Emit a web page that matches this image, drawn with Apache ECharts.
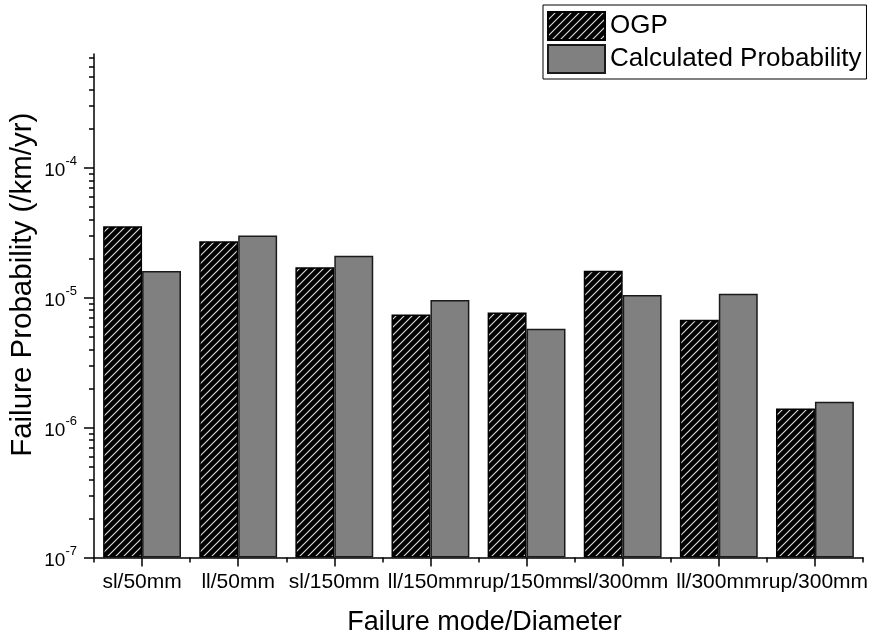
<!DOCTYPE html>
<html>
<head>
<meta charset="utf-8">
<script src="https://cdn.jsdelivr.net/npm/echarts@6/dist/echarts.min.js"></script>
<style>
html,body{margin:0;padding:0;background:#fff;}
#chart{width:872px;height:641px;}
</style>
</head>
<body>
<div id="chart"></div>
<script>
// ---- data ----
var categories = ['sl/50mm', 'll/50mm', 'sl/150mm', 'll/150mm', 'rup/150mm', 'sl/300mm', 'll/300mm', 'rup/300mm'];
var ogpValues = [3.55e-5, 2.72e-5, 1.71e-5, 7.43e-6, 7.69e-6, 1.61e-5, 6.75e-6, 1.405e-6];
var calcValues = [1.60e-5, 3.01e-5, 2.10e-5, 9.57e-6, 5.75e-6, 1.05e-5, 1.07e-5, 1.58e-6];
var seriesNames = ['OGP', 'Calculated Probability'];
var majorTickValues = [1e-7, 1e-6, 1e-5, 1e-4];
var yMin = 1e-7;
var yMax = 7.5e-4;

// minor tick values 2..9 per decade
var minorTickValues = [];
for (var e = -7; e <= -4; e++) {
  for (var k = 2; k <= 9; k++) {
    var v = k * Math.pow(10, e);
    if (v <= yMax) minorTickValues.push(v);
  }
}

// hatch pattern
function makeHatch() {
  var s = 8;
  var c = document.createElement('canvas');
  c.width = s; c.height = s;
  var ctx = c.getContext('2d');
  ctx.fillStyle = '#000';
  ctx.fillRect(0, 0, s, s);
  ctx.strokeStyle = '#e0e0e0';
  ctx.lineWidth = 1.1;
  ctx.beginPath();
  ctx.moveTo(-1, s + 1); ctx.lineTo(s + 1, -1);
  ctx.moveTo(-1, 1); ctx.lineTo(1, -1);
  ctx.moveTo(s - 1, s + 1); ctx.lineTo(s + 1, s - 1);
  ctx.stroke();
  return c;
}

var FONT = "'Liberation Sans', Arial, sans-serif";
var chart = echarts.init(document.getElementById('chart'), null, {renderer: 'canvas'});

var option = {
  backgroundColor: '#fff',
  animation: false,
  textStyle: {fontFamily: FONT, color: '#000'},
  legend: {
    left: 543, top: 5,
    orient: 'vertical',
    icon: 'rect',
    itemWidth: 57, itemHeight: 28, itemGap: 3,
    padding: [6, 5, 5, 4],
    borderColor: '#000', borderWidth: 1,
    backgroundColor: '#fff',
    textStyle: {fontFamily: FONT, fontSize: 26, color: '#000'},
    data: seriesNames
  },
  grid: {left: 94, right: 9, top: 54, bottom: 83.5, containLabel: false, outerBoundsMode: 'none'},
  xAxis: [{
    type: 'category',
    data: categories,
    boundaryGap: true,
    name: 'Failure mode/Diameter',
    nameLocation: 'middle',
    nameGap: 52,
    nameMoveOverlap: false,
    nameTextStyle: {fontFamily: FONT, fontSize: 27, color: '#000', padding: [0, 0, 0, 12]},
    axisLine: {show: true, lineStyle: {color: '#000', width: 1.5}},
    axisTick: {show: true, alignWithLabel: true, length: 9, lineStyle: {color: '#000', width: 1.5}},
    axisLabel: {interval: 0, hideOverlap: false, margin: 14, fontFamily: FONT, fontSize: 21, color: '#000'},
    splitLine: {show: false}
  }, {
    type: 'category',
    data: categories,
    boundaryGap: true,
    position: 'bottom',
    axisLine: {show: false},
    axisTick: {show: true, alignWithLabel: false, length: 5, lineStyle: {color: '#000', width: 1.5}},
    axisLabel: {show: false},
    splitLine: {show: false}
  }],
  yAxis: [{
    type: 'log',
    logBase: 10,
    min: yMin, max: yMax,
    startValue: yMin,
    name: 'Failure Probability (/km/yr)',
    nameLocation: 'middle',
    nameGap: 56,
    nameRotate: 90,
    nameMoveOverlap: false,
    nameTextStyle: {fontFamily: FONT, fontSize: 29.5, color: '#000', padding: [0, 0, 0, 42]},
    axisLine: {show: true, lineStyle: {color: '#000', width: 1.5}},
    axisTick: {show: true, length: 10, customValues: majorTickValues, lineStyle: {color: '#000', width: 1.5}},
    axisLabel: {
      customValues: majorTickValues,
      margin: 17,
      fontFamily: FONT,
      formatter: function (v) {
        var ex = Math.round(Math.log(v) / Math.LN10);
        return '{b|10}{s|' + ex + '}';
      },
      rich: {
        b: {fontFamily: FONT, fontSize: 19, color: '#000', verticalAlign: 'bottom', lineHeight: 26},
        s: {fontFamily: FONT, fontSize: 13, color: '#000', verticalAlign: 'top', lineHeight: 26}
      }
    },
    splitLine: {show: false}
  }, {
    type: 'log',
    logBase: 10,
    min: yMin, max: yMax,
    position: 'left',
    axisLine: {show: false},
    axisTick: {show: true, length: 5, customValues: minorTickValues, lineStyle: {color: '#000', width: 1.5}},
    axisLabel: {show: false},
    splitLine: {show: false}
  }],
  series: [{
    name: seriesNames[0],
    type: 'bar',
    xAxisIndex: 0, yAxisIndex: 0,
    data: ogpValues,
    barGap: '0%',
    barCategoryGap: '19%',
    itemStyle: {color: {image: makeHatch(), repeat: 'repeat'}, borderColor: '#000', borderWidth: 1.5}
  }, {
    name: seriesNames[1],
    type: 'bar',
    xAxisIndex: 0, yAxisIndex: 0,
    data: calcValues,
    barGap: '0%',
    barCategoryGap: '19%',
    itemStyle: {color: '#808080', borderColor: '#1a1a1a', borderWidth: 1.5}
  }]
};
chart.setOption(option);
</script>
</body>
</html>
